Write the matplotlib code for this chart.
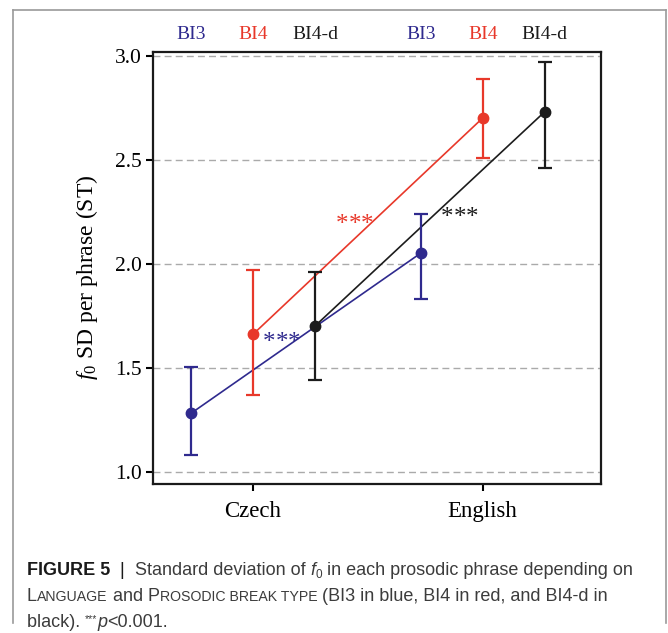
import matplotlib
matplotlib.use("Agg")
import matplotlib.pyplot as plt
from matplotlib.lines import Line2D
import numpy as np

# data
languages = ["Czech", "English"]
break_types = ["BI3", "BI4", "BI4-d"]
bi3_mean = [1.28, 2.05]
bi3_low = [1.08, 1.83]
bi3_high = [1.505, 2.24]
bi4_mean = [1.66, 2.70]
bi4_low = [1.37, 2.51]
bi4_high = [1.97, 2.89]
bi4d_mean = [1.70, 2.73]
bi4d_low = [1.44, 2.46]
bi4d_high = [1.96, 2.97]
y_ticks = [1.0, 1.5, 2.0, 2.5, 3.0]
# positions of the *** significance marks (data coords, centre of the stars)
stars_x = [1.125, 1.444, 1.900]
stars_y = [1.652, 2.222, 2.254]

BLUE = "#2f2a8e"
RED = "#e8382a"
BLACK = "#1c1c1c"
colors = [BLUE, RED, BLACK]

W, H = 668, 633
SERIF = "Liberation Serif"
SANS = "Liberation Sans"

plt.rcParams["mathtext.fontset"] = "custom"
plt.rcParams["mathtext.rm"] = SERIF
plt.rcParams["mathtext.it"] = SERIF + ":italic"

fig = plt.figure(figsize=(W / 100, H / 100), dpi=100)
ax = fig.add_axes([152.7 / W, 1 - 484 / H, 448 / W, 432.3 / H])

x = np.arange(1, len(languages) + 1)
dodge = 0.27
means = [bi3_mean, bi4_mean, bi4d_mean]
lows = [bi3_low, bi4_low, bi4d_low]
highs = [bi3_high, bi4_high, bi4d_high]

for y in y_ticks:
    ax.axhline(y, color="#aaaaaa", lw=1.0, ls=(0, (5, 3)), zorder=0)

for i, (m, lo, hi, c) in enumerate(zip(means, lows, highs, colors)):
    xi = x + (i - 1) * dodge
    m = np.array(m)
    err = [m - np.array(lo), np.array(hi) - m]
    ax.plot(xi, m, color=c, lw=1.2, zorder=2)
    ax.errorbar(xi, m, yerr=err, fmt="o", color=c, ms=7.5, elinewidth=1.6,
                capsize=5, capthick=1.6, zorder=3)
    for xx in xi:
        ax.text(xx, 1.039, break_types[i], transform=ax.get_xaxis_transform(),
                ha="center", va="center", color=c, fontsize=14, family=SERIF)

# significance stars, coloured like the series (blue, red, black);
# each asterisk is placed on its own so they get a small gap between them,
# and the baseline sits ~13 px under the centre because the glyph rides high
for sx, sy, c in zip(stars_x, stars_y, colors):
    for off in (-9, 0, 9):
        ax.annotate("*", (sx, sy), xytext=(off, -9.5), textcoords="offset points",
                    ha="center", va="baseline", color=c, fontsize=18,
                    family=SERIF)

ax.set_xlim(0.563, 2.514)
ax.set_ylim(0.94, 3.019)
ax.set_xticks(x)
ax.set_xticklabels(languages, fontsize=16.5, family=SERIF)
ax.set_yticks(y_ticks)
ax.set_yticklabels([f"{v:.1f}" for v in y_ticks], fontsize=15.5, family=SERIF)
ax.tick_params(axis="both", width=1.5, length=5, color="black")
ax.tick_params(axis="x", pad=7)
ax.tick_params(axis="y", pad=3)
for sp in ax.spines.values():
    sp.set_linewidth(1.6)
    sp.set_color("#1a1a1a")

ax.set_ylabel("$f_0$ SD per phrase (ST)", fontsize=17, family=SERIF)
ax.yaxis.set_label_coords(-0.118, 0.478)

# grey frame around the whole figure (open at the bottom)
fx = lambda px: px / W
fy = lambda py: 1 - py / H
frame_kw = dict(color="#9a9a9a", lw=1.2, transform=fig.transFigure)
fig.add_artist(Line2D([fx(13), fx(666)], [fy(10), fy(10)], **frame_kw))
fig.add_artist(Line2D([fx(13), fx(13)], [fy(10), fy(623)], **frame_kw))
fig.add_artist(Line2D([fx(666), fx(666)], [fy(10), fy(623)], **frame_kw))

# caption, with pieces placed one after the other
renderer = fig.canvas.get_renderer()


def write_line(pieces, px, py):
    xpos = fx(px)
    for txt, kw in pieces:
        t = fig.text(xpos, fy(py) + kw.pop("dy", 0), txt, ha="left",
                     va="baseline", **kw)
        bb = t.get_window_extent(renderer)
        xpos += bb.width / W


cap = 13.0
small = 10.2
grey = "#3c3c3c"
base = dict(family=SANS, fontsize=cap, color=grey)

write_line([
    ("FIGURE 5", dict(base, weight="bold", color="#1a1a1a")),
    ("  |  ", dict(base, color="#1a1a1a")),
    ("Standard deviation of ", dict(base)),
    ("f", dict(base, style="italic")),
    ("0", dict(base, fontsize=8.5, dy=-0.004)),
    (" in each prosodic phrase depending on", dict(base)),
], 27, 575)

write_line([
    ("L", dict(base)),
    ("ANGUAGE", dict(base, fontsize=small)),
    (" and ", dict(base)),
    ("P", dict(base)),
    ("ROSODIC BREAK TYPE", dict(base, fontsize=small)),
    (" (BI3 in blue, BI4 in red, and BI4-d in", dict(base)),
], 27, 601)

write_line([
    ("black). ", dict(base)),
    ("***", dict(base, fontsize=7.5, dy=0.008)),
    ("p", dict(base, style="italic")),
    ("<0.001.", dict(base)),
], 27, 627)

fig.savefig("out.png", dpi=100)
